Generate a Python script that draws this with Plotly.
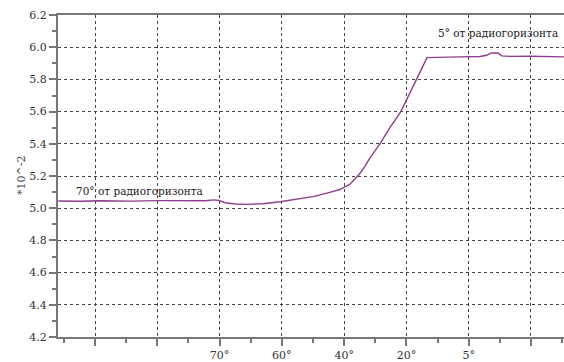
import plotly.graph_objects as go

# data (x in grid units: major gridlines at 1..8)
x_vals = [0.41, 0.76, 1.08, 1.56, 2.04, 2.53, 2.77, 2.91, 2.99, 3.09, 3.25, 3.44, 3.70,
          3.97, 4.24, 4.50, 4.77, 4.93, 5.09, 5.17, 5.25, 5.33, 5.41, 5.575, 5.735, 5.91, 6.04, 6.17,
          6.25, 6.33, 6.54, 6.86, 7.18, 7.29, 7.36, 7.47, 7.53, 7.66, 7.98, 8.30, 8.53]
y_vals = [5.045, 5.043, 5.046, 5.044, 5.047, 5.045, 5.046, 5.052, 5.048, 5.034, 5.026, 5.024, 5.028,
          5.040, 5.055, 5.072, 5.098, 5.116, 5.148, 5.178, 5.214, 5.258, 5.310, 5.400, 5.500, 5.600,
          5.700, 5.800, 5.870, 5.935, 5.938, 5.940, 5.942, 5.950, 5.964, 5.964, 5.946, 5.943, 5.944,
          5.942, 5.940]

tick_positions = [1, 2, 3, 4, 5, 6, 7, 8]
tick_labels = ["", "", "70°", "60°", "40°", "20°", "5°", ""]
y_ticks = [4.2, 4.4, 4.6, 4.8, 5.0, 5.2, 5.4, 5.6, 5.8, 6.0, 6.2]

font_family = "DejaVu Serif"

fig = go.Figure()
fig.add_trace(go.Scatter(x=x_vals, y=y_vals, mode="lines",
                         line=dict(color="#8e3e8e", width=1.4), showlegend=False))

fig.add_annotation(x=1.72, y=5.106, text="70° от радиогоризонта", showarrow=False,
                   font=dict(family=font_family, size=10.5, color="#222"))
fig.add_annotation(x=8.46, xanchor="right", y=6.087, text="5° от радиогоризонта", showarrow=False,
                   font=dict(family=font_family, size=10.5, color="#222"))
fig.add_annotation(x=(21 - 58) / 506, xref="paper", xanchor="center", y=0.5, yref="paper",
                   yanchor="middle", text="*10^-2", textangle=-90, showarrow=False,
                   font=dict(family=font_family, size=11, color="#444"))

fig.update_layout(
    width=564, height=362,
    margin=dict(l=58, r=0, t=15, b=23),
    paper_bgcolor="white", plot_bgcolor="white",
    font=dict(family=font_family, size=11, color="#333"),
    xaxis=dict(range=[0.406, 8.53], tickmode="array", tickvals=tick_positions, ticktext=tick_labels,
               showgrid=True, gridcolor="#444", griddash="dot", gridwidth=1.3,
               showline=True, linecolor="#777", linewidth=2, mirror=True,
               ticks="outside", ticklen=7, tickcolor="#777", tickwidth=1.5,
               minor=dict(dtick=1, tick0=0.5, ticks="outside", ticklen=4, tickcolor="#777",
                          showgrid=False),
               zeroline=False),
    yaxis=dict(range=[4.2, 6.2], tickmode="array", tickvals=y_ticks,
               ticktext=[f"{v:.1f}" for v in y_ticks],
               showgrid=True, gridcolor="#444", griddash="dot", gridwidth=1.3,
               showline=True, linecolor="#777", linewidth=2,
               ticks="outside", ticklen=7, tickcolor="#777", tickwidth=1.5,
               minor=dict(dtick=0.2, tick0=4.3, ticks="outside", ticklen=4, tickcolor="#777",
                          showgrid=False),
               zeroline=False),
)

fig.write_html("out.html")
